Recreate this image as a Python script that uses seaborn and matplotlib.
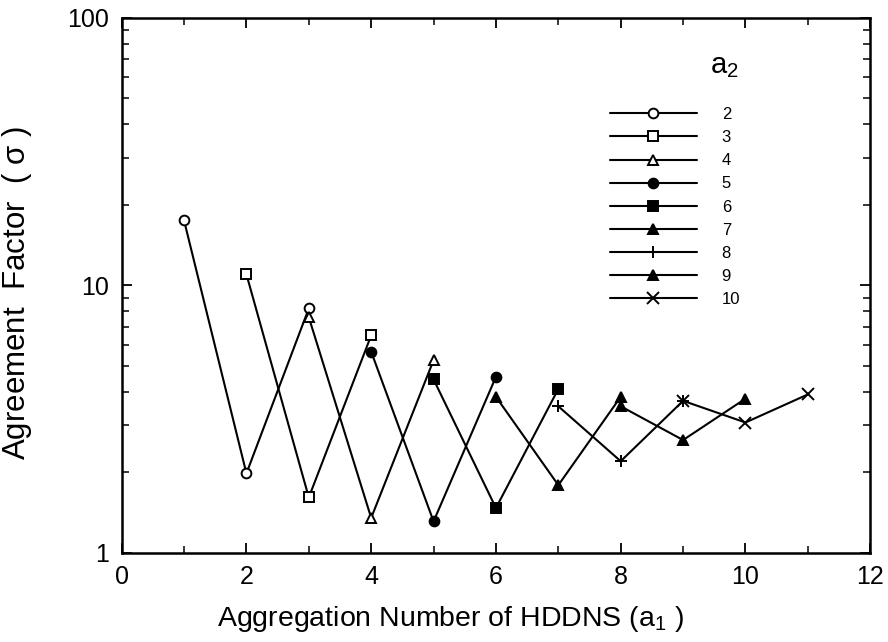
import matplotlib
matplotlib.use("Agg")
import matplotlib.pyplot as plt
from matplotlib.ticker import FixedLocator, NullFormatter
import pandas as pd
import seaborn as sns

# a2 series, with their a1 positions and agreement factors
a2_values = [2, 3, 4, 5, 6, 7, 8, 9, 10]
a1_points = [
    [1, 2, 3],
    [2, 3, 4],
    [3, 4, 5],
    [4, 5, 6],
    [5, 6, 7],
    [6, 7, 8],
    [7, 8, 9],
    [8, 9, 10],
    [9, 10, 11],
]
sigma_values = [
    [17.5, 1.98, 8.2],
    [11.0, 1.61, 6.5],
    [7.6, 1.35, 5.25],
    [5.65, 1.31, 4.55],
    [4.45, 1.47, 4.1],
    [3.83, 1.79, 3.83],
    [3.53, 2.2, 3.7],
    [3.53, 2.64, 3.77],
    [3.7, 3.07, 3.91],
]
x_ticks = [0, 2, 4, 6, 8, 10, 12]
y_ticks = [1, 10, 100]

# marker style per series: (marker, filled)
styles = [("o", False), ("s", False), ("^", False), ("o", True), ("s", True),
          ("^", True), ("+", True), ("^", True), ("x", True)]

sns.set_theme(style="ticks")
plt.rcParams["font.family"] = ["Liberation Sans", "DejaVu Sans"]
plt.rcParams["mathtext.fontset"] = "custom"
plt.rcParams["mathtext.rm"] = "Liberation Sans"
plt.rcParams["mathtext.it"] = "Liberation Sans"
for key in ["text.color", "axes.labelcolor", "xtick.color", "ytick.color"]:
    plt.rcParams[key] = "black"

W, H = 888, 642
fig = plt.figure(figsize=(W / 100, H / 100), dpi=100)
ax = fig.add_axes([0.137, 0.139, 0.843, 0.833])

for a2, xs, ys, (mk, filled) in zip(a2_values, a1_points, sigma_values, styles):
    d = pd.DataFrame({"a1": xs, "sigma": ys})
    sns.lineplot(data=d, x="a1", y="sigma", ax=ax, color="black", lw=1.5,
                 marker=mk, markersize=7 if mk not in ("+", "x") else 8,
                 markerfacecolor="black" if filled else "white",
                 markeredgecolor="black", markeredgewidth=1.4,
                 label=str(a2))

ax.set_yscale("log")
ax.set_xlim(0, 12)
ax.set_ylim(1, 100)
ax.xaxis.set_major_locator(FixedLocator(x_ticks))
ax.xaxis.set_minor_locator(FixedLocator(list(range(1, 12, 2))))
ax.set_xticklabels([str(t) for t in x_ticks])
ax.yaxis.set_major_locator(FixedLocator(y_ticks))
ax.set_yticklabels([str(t) for t in y_ticks])
ax.yaxis.set_minor_formatter(NullFormatter())

ax.tick_params(which="both", direction="in", top=True, right=True,
               color="black", labelsize=18, pad=9)
ax.tick_params(which="major", length=7, width=1.3)
ax.tick_params(which="minor", length=5, width=1.1)
for sp in ax.spines.values():
    sp.set_linewidth(1.8)
    sp.set_color("black")

ax.set_xlabel(r"Aggregation Number of HDDNS (a$_{\mathregular{1}}$ )", fontsize=20.5)
ax.set_ylabel(r"Agreement  Factor  ( $\sigma$ )", fontsize=22.5)
ax.xaxis.set_label_coords(0.439, -0.095)
ax.yaxis.set_label_coords(-0.117, 0.486)

ax.legend(loc="upper left", bbox_to_anchor=(610 / W, 1 - 107 / H),
          bbox_transform=fig.transFigure, frameon=False, fontsize=12,
          borderpad=0, borderaxespad=0,
          handlelength=5.2, handletextpad=1.5, labelspacing=0.49)
fig.text(710 / W, 1 - 73 / H, r"a$_{\mathregular{2}}$", fontsize=21,
         ha="left", va="baseline")

fig.savefig("out.png", dpi=100, facecolor="white")
